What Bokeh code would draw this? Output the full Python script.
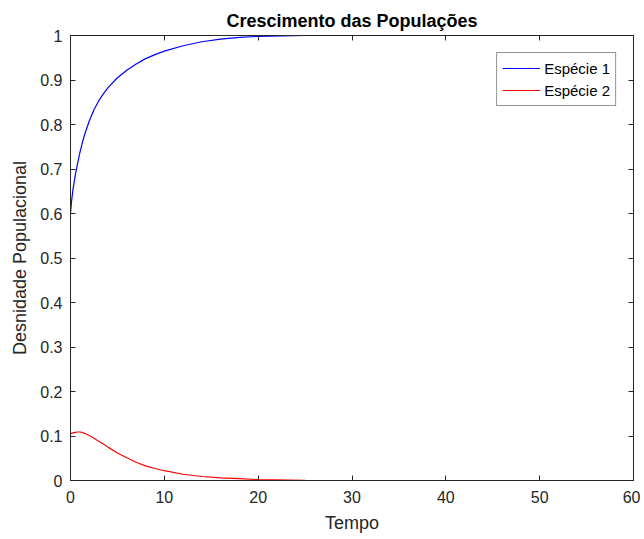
from bokeh.plotting import figure
from bokeh.models import LinearAxis, FixedTicker, CustomJSTickFormatter, Range1d, Legend, LegendItem
from bokeh.embed import file_html
from bokeh.resources import INLINE

# Data
tempo = [0, 0.1, 0.25, 0.5, 0.75, 1, 1.25, 1.5, 2, 2.5, 3, 3.5, 4, 5, 6, 7, 8, 9, 10, 12, 14, 16, 18, 20, 25, 30, 40, 50, 60]
especie1 = [0.60, 0.625, 0.652, 0.685, 0.712, 0.737, 0.758, 0.777, 0.808, 0.833, 0.853, 0.869, 0.883, 0.905, 0.922,
            0.936, 0.948, 0.957, 0.965, 0.977, 0.986, 0.992, 0.996, 0.998, 1.0, 1.0, 1.0, 1.0, 1.0]
especie2 = [0.105, 0.106, 0.107, 0.108, 0.109, 0.109, 0.108, 0.106, 0.101, 0.095, 0.088, 0.082, 0.075, 0.062, 0.051,
            0.041, 0.033, 0.027, 0.022, 0.014, 0.009, 0.006, 0.004, 0.002, 0.0005, 0.0, 0.0, 0.0, 0.0]
x_ticks = [0, 10, 20, 30, 40, 50, 60]
y_ticks = [0, 0.1, 0.2, 0.3, 0.4, 0.5, 0.6, 0.7, 0.8, 0.9, 1.0]

FONT = "Liberation Sans"
AX = "#262626"

p = figure(width=640, height=535, output_backend="svg", toolbar_location=None,
           x_range=Range1d(0, 60), y_range=Range1d(0, 1),
           min_border_left=70, min_border_right=7, min_border_top=35, min_border_bottom=54,
           title="Crescimento das Populações")
p.title.align = "center"
p.title.text_font = FONT
p.title.text_font_size = "18px"
p.title.text_font_style = "bold"
p.title.text_color = "black"
p.title.standoff = 9

p.xgrid.visible = False
p.ygrid.visible = False
p.outline_line_color = AX
p.outline_line_width = 1
p.outline_line_alpha = 1

for ax in [p.xaxis[0], p.yaxis[0]]:
    ax.axis_line_color = AX
    ax.major_tick_line_color = AX
    ax.major_tick_in = 5
    ax.major_tick_out = 0
    ax.minor_tick_line_color = None
    ax.major_label_text_font = FONT
    ax.major_label_text_font_size = "16px"
    ax.major_label_text_color = AX
    ax.axis_label_text_font = FONT
    ax.axis_label_text_font_size = "18px"
    ax.axis_label_text_color = AX
    ax.axis_label_text_font_style = "normal"

p.xaxis[0].ticker = FixedTicker(ticks=x_ticks)
p.yaxis[0].ticker = FixedTicker(ticks=y_ticks)
p.yaxis[0].formatter = CustomJSTickFormatter(code="return (Math.round(tick*10)/10).toString();")
p.xaxis[0].axis_label = "Tempo"
p.yaxis[0].axis_label = "Desnidade Populacional"
p.xaxis[0].major_label_standoff = 10
p.yaxis[0].major_label_standoff = 8
p.xaxis[0].axis_label_standoff = 7
p.yaxis[0].axis_label_standoff = 7

top = LinearAxis(ticker=FixedTicker(ticks=x_ticks), major_label_text_color=None,
                 major_tick_in=5, major_tick_out=0, minor_tick_line_color=None,
                 axis_line_color=AX, major_tick_line_color=AX, major_label_standoff=0)
right = LinearAxis(ticker=FixedTicker(ticks=y_ticks), major_label_text_color=None,
                   major_tick_in=5, major_tick_out=0, minor_tick_line_color=None,
                   axis_line_color=AX, major_tick_line_color=AX, major_label_standoff=0)
p.add_layout(top, "above")
p.add_layout(right, "right")

r1 = p.line(tempo, especie1, line_color="#0000FF", line_width=1.2)
r2 = p.line(tempo, especie2, line_color="#FF0000", line_width=1.2)

legend = Legend(items=[LegendItem(label="Espécie 1", renderers=[r1]),
                       LegendItem(label="Espécie 2", renderers=[r2])],
                location="top_right")
legend.label_text_font = FONT
legend.label_text_font_size = "15px"
legend.label_text_color = "black"
legend.border_line_color = AX
legend.border_line_width = 1
legend.glyph_width = 38
legend.glyph_height = 20
legend.label_height = 20
legend.spacing = 2
legend.padding = 5
legend.margin = 17
legend.label_standoff = 4
legend.background_fill_alpha = 1
p.add_layout(legend, "center")

open("out.html", "w").write(file_html(p, INLINE))
